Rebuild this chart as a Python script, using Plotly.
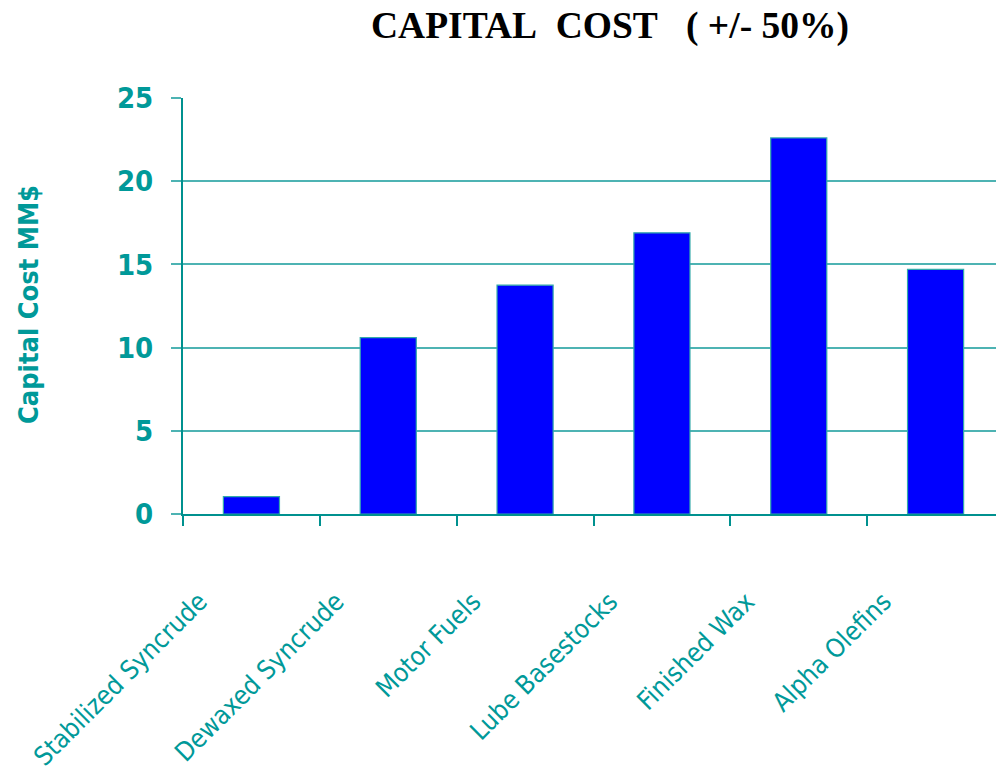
import plotly.graph_objects as go

categories = ["Stabilized Syncrude", "Dewaxed Syncrude", "Motor Fuels",
              "Lube Basestocks", "Finished Wax", "Alpha Olefins"]
capital_cost = [1.05, 10.6, 13.75, 16.9, 22.6, 14.7]
y_ticks = [0, 5, 10, 15, 20, 25]

TEAL = "#009999"
AXIS = "#00918f"
GRID = "#4db3b3"
NARROW = "DejaVu Sans Condensed, Liberation Sans Narrow, Liberation Sans, Arial, sans-serif"

fig = go.Figure()
fig.add_trace(go.Bar(
    x=categories, y=capital_cost, width=0.41,
    marker=dict(color="#0000ff", line=dict(color="#33aaaa", width=1.2)),
))

# page body has an 8px margin, so the figure is 8px smaller and offset
W, H = 996, 770
L, R, T, B = 175, 0, 89.5, 263.5

fig.update_layout(
    width=W, height=H,
    margin=dict(l=L, r=R, t=T, b=B, autoexpand=False),
    paper_bgcolor="white", plot_bgcolor="white",
    showlegend=False,
    bargap=0.59,
    title=dict(
        text="CAPITAL\u00a0\u00a0COST\u00a0\u00a0\u00a0(\u00a0+/-\u00a050%)",
        font=dict(family="Liberation Serif, Times New Roman, serif", size=37.5, color="black", weight="bold"),
        x=602 / W, xanchor="center", y=1 - 17 / H, yanchor="middle",
    ),
)

fig.update_xaxes(
    type="category", automargin=False,
    tickson="boundaries", ticks="outside", ticklen=10, tickwidth=2, tickcolor=AXIS,
    showline=True, linecolor=AXIS, linewidth=2,
    showgrid=False,
    tickangle=-45,
    ticklabelstandoff=60, ticklabelshift=-52,
    tickfont=dict(family=NARROW, size=26, color=TEAL),
    range=[-0.5, 5.5],
)

fig.update_yaxes(
    range=[0, 25], tickvals=y_ticks, automargin=False,
    ticks="outside", ticklen=10, tickwidth=2, tickcolor=GRID,
    showline=True, linecolor=AXIS, linewidth=2,
    showgrid=True, gridcolor=GRID, gridwidth=2,
    zeroline=False,
    tickfont=dict(family=NARROW, size=29, color=TEAL, weight="bold"),
    ticklabelstandoff=12,
)

fig.add_annotation(
    text="Capital Cost MM$", textangle=-90,
    xref="paper", yref="paper",
    x=(20 - L) / (W - L - R), y=(H - B - 297) / (H - T - B),
    xanchor="center", yanchor="middle", showarrow=False,
    font=dict(family=NARROW, size=27, color=TEAL, weight="bold"),
)

fig.write_html("out.html")
